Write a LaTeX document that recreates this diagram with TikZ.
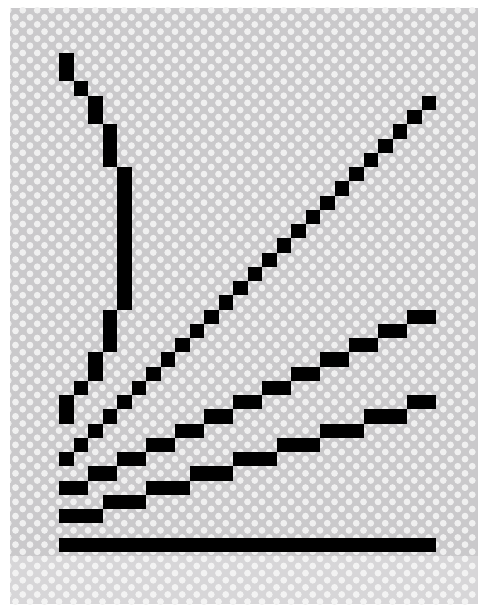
\documentclass[tikz,border=0pt]{standalone}
\usetikzlibrary{calc}
\definecolor{bggray}{RGB}{202,201,203}
\definecolor{dotwhite}{RGB}{240,240,240}
\tikzset{
  pix/.style={fill=black},
  dotstyle/.style={fill=dotwhite},
}
% cell rectangle: col1,row1,col2,row2 inclusive
\newcommand\pixrect[4]{%
  \fill[pix] ({59+#1*14.5},{53+#2*14.25}) rectangle ({59+(#3+1)*14.5},{53+(#4+1)*14.25});}
\begin{document}
\begin{tikzpicture}[x=0.5pt,y=-0.5pt]
\useasboundingbox (0,0) rectangle (480,610);
% background
\fill[white] (0,0) rectangle (480,610);
\begin{scope}
  \clip (10,8) rectangle (478,604);
  \fill[bggray] (10,8) rectangle (478,604);
  \foreach \i in {-4,...,28} {
    \foreach \j in {-4,...,39} {
      \fill[dotstyle] ({59+(\i+0.5)*14.5},{53+\j*14.25}) circle (3.4);
      \fill[dotstyle] ({59+\i*14.5},{53+(\j+0.5)*14.25}) circle (3.4);
    }
  }
  \fill[white,opacity=0.25] (10,556) rectangle (478,604);
\end{scope}
% left broken curve
\pixrect{0}{0}{0}{1}
\pixrect{1}{2}{1}{2}
\pixrect{2}{3}{2}{4}
\pixrect{3}{5}{3}{7}
\pixrect{4}{8}{4}{17}
\pixrect{3}{18}{3}{20}
\pixrect{2}{21}{2}{22}
\pixrect{1}{23}{1}{23}
\pixrect{0}{24}{0}{25}
% diagonal line
\foreach \c in {0,...,25} {
  \pgfmathtruncatemacro\r{28-\c}
  \pixrect{\c}{\r}{\c}{\r}
}
% slope 1/2 line
\foreach \k in {0,...,12} {
  \pgfmathtruncatemacro\ca{2*\k}
  \pgfmathtruncatemacro\cb{2*\k+1}
  \pgfmathtruncatemacro\r{30-\k}
  \pixrect{\ca}{\r}{\cb}{\r}
}
% slope 1/3 line
\foreach \k in {0,...,7} {
  \pgfmathtruncatemacro\ca{3*\k}
  \pgfmathtruncatemacro\cb{3*\k+2}
  \pgfmathtruncatemacro\r{32-\k}
  \pixrect{\ca}{\r}{\cb}{\r}
}
\pixrect{24}{24}{25}{24}
% base bar
\pixrect{0}{34}{25}{34}
\end{tikzpicture}
\end{document}
